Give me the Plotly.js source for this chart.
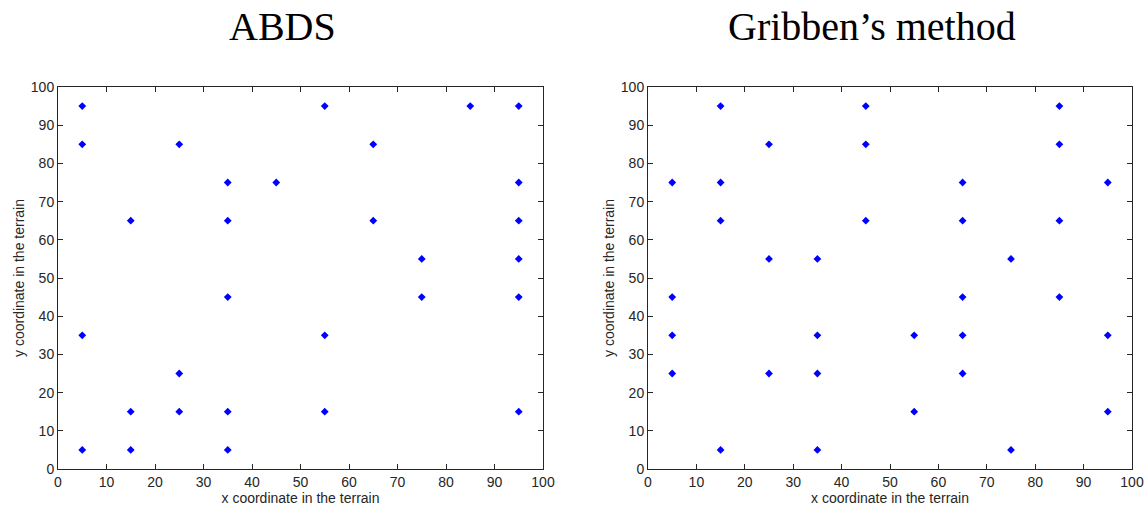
<!DOCTYPE html>
<html>
<head>
<meta charset="utf-8">
<script src="https://cdn.plot.ly/plotly-3.0.1.min.js"></script>
<style>html,body{margin:0;padding:0;background:#fff;}#chart{width:1147px;height:511px;}</style>
</head>
<body>
<div id="chart"></div>
<script>
// ABDS sensor positions
const abdsX = [5, 5, 5, 5, 15, 15, 15, 25, 25, 25, 35, 35, 35, 35, 35, 45, 55, 55, 55, 65, 65, 75, 75, 85, 95, 95, 95, 95, 95, 95];
const abdsY = [95, 85, 35, 5, 65, 15, 5, 85, 25, 15, 75, 65, 45, 15, 5, 75, 95, 35, 15, 85, 65, 55, 45, 95, 95, 75, 65, 55, 45, 15];
// Gribben's method sensor positions
const gribX = [5, 5, 5, 5, 15, 15, 15, 15, 25, 25, 25, 35, 35, 35, 35, 45, 45, 45, 55, 55, 65, 65, 65, 65, 65, 75, 75, 85, 85, 85, 85, 95, 95, 95];
const gribY = [75, 45, 35, 25, 95, 75, 65, 5, 85, 55, 25, 55, 35, 25, 5, 95, 85, 65, 35, 15, 75, 65, 45, 35, 25, 55, 5, 95, 85, 65, 45, 75, 35, 15];
const panelTitles = ["ABDS", "Gribben\u2019s method"];
const tickVals = [0, 10, 20, 30, 40, 50, 60, 70, 80, 90, 100];
const xTitle = "x coordinate in the terrain";
const yTitle = "y coordinate in the terrain";

const marker = {symbol: 'diamond', size: 6, color: '#0000ff', line: {width: 0}};
const traces = [
  {x: abdsX, y: abdsY, type: 'scatter', mode: 'markers', marker: marker, xaxis: 'x', yaxis: 'y', hoverinfo: 'x+y'},
  {x: gribX, y: gribY, type: 'scatter', mode: 'markers', marker: marker, xaxis: 'x2', yaxis: 'y2', hoverinfo: 'x+y'}
];

const tickFont = {family: 'Liberation Sans, Arial, sans-serif', size: 14, color: '#262626'};
const titleFont = {family: 'Liberation Sans, Arial, sans-serif', size: 14, color: '#262626'};
function ax(domain, anchor, title) {
  return {
    domain: domain, anchor: anchor, range: [0, 100], tickvals: tickVals,
    showgrid: false, zeroline: false, showline: true, mirror: 'allticks',
    linecolor: '#262626', linewidth: 1, ticks: 'inside', ticklen: 5, tickcolor: '#262626',
    tickfont: tickFont, title: {text: title, font: titleFont, standoff: 2}, fixedrange: true
  };
}
const yDom = [1 - 469/511, 1 - 87/511];
const layout = {
  width: 1147, height: 511,
  margin: {l: 0, r: 0, t: 0, b: 0},
  paper_bgcolor: '#ffffff', plot_bgcolor: '#ffffff',
  showlegend: false,
  xaxis: ax([58/1147, 543/1147], 'y', xTitle),
  yaxis: ax(yDom, 'x', yTitle),
  xaxis2: ax([648/1147, 1132/1147], 'y2', xTitle),
  yaxis2: ax(yDom, 'x2', yTitle),
  annotations: [
    {text: panelTitles[0], x: 282/1147, y: 1 - 26/511, xref: 'paper', yref: 'paper', xanchor: 'center', yanchor: 'middle', showarrow: false,
     font: {family: 'Liberation Serif, Times New Roman, serif', size: 40, color: '#000000'}},
    {text: panelTitles[1], x: 872/1147, y: 1 - 26/511, xref: 'paper', yref: 'paper', xanchor: 'center', yanchor: 'middle', showarrow: false,
     font: {family: 'Liberation Serif, Times New Roman, serif', size: 40, color: '#000000'}}
  ]
};
Plotly.newPlot('chart', traces, layout, {displayModeBar: false, staticPlot: true});
</script>
</body>
</html>
